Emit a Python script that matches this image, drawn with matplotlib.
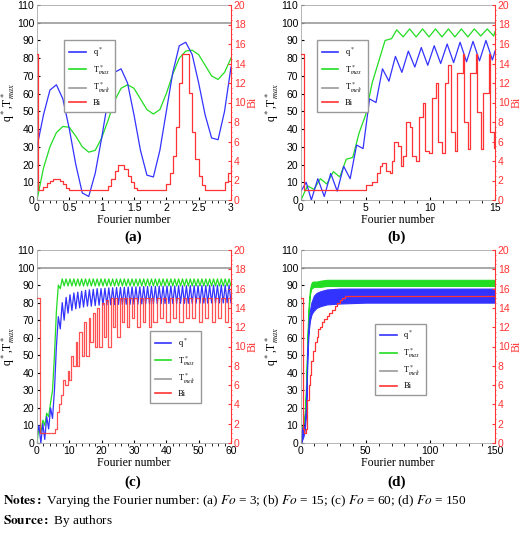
import numpy as np
import matplotlib
matplotlib.use("Agg")
import matplotlib.pyplot as plt

plt.rcParams["font.family"] = ["Liberation Serif", "DejaVu Serif"]
plt.rcParams["mathtext.fontset"] = "stix"

BLUE, GREEN, GRAY, RED = "#3333ff", "#22dd22", "#999999", "#ff3333"

# ---- (a) Fo = 3
fo_a = np.round(np.arange(0, 3.01, 0.1), 2)
q_a = [30, 48, 62, 65, 57, 40, 20, 4, 2, 15, 35, 57, 72, 74, 66, 48, 28, 14, 13, 28,
       50, 72, 87, 89, 82, 66, 48, 35, 34, 50, 75]
t_a = [0, 18, 30, 38, 41.5, 41, 36, 30, 27, 28, 35, 45, 56, 63, 65, 63, 57, 51, 48.5, 51,
       60, 71, 80, 84, 84.5, 82, 76, 70, 68, 72, 80]
bi_a_x = [0, 0.02, 0.1, 0.15, 0.2, 0.25, 0.35, 0.4, 0.45, 0.5, 1.1, 1.15, 1.2, 1.25, 1.35,
          1.4, 1.45, 1.5, 1.55, 2.0, 2.05, 2.1, 2.15, 2.2, 2.25, 2.35, 2.4, 2.45, 2.5, 2.55,
          2.6, 2.9, 2.95, 3.0]
bi_a = [15, 1, 1.3, 1.7, 2.0, 2.2, 2.0, 1.6, 1.2, 1, 1.4, 2.2, 3.0, 3.6, 3.2,
        2.5, 1.8, 1.2, 1, 1.6, 2.8, 4.5, 7.5, 12, 15, 11, 7, 4.2, 2.5, 1.5,
        1, 1.8, 2.8, 3.6]

# ---- (b) Fo = 15
fo_b_q = [0, 0.4, 0.8, 1.3, 1.8, 2.3, 2.8, 3.3, 3.8, 4.3, 4.8, 5.3, 5.8, 6.3, 6.8, 7.3, 7.8,
          8.3, 8.8, 9.3, 9.8, 10.3, 10.8, 11.3, 11.8, 12.3, 12.8, 13.3, 13.8, 14.3, 14.8, 15]
q_b = [5, 10, 0, 12, 2, 15, 5, 19, 12, 31, 29, 57, 55, 74, 67, 81, 72, 84, 75, 86, 76,
       87, 77, 88, 77.5, 89, 78, 89.5, 78.5, 90, 79, 84]
fo_b_t = [0, 0.5, 1.0, 1.5, 2.0, 2.5, 3.0, 3.5, 4.0, 4.5, 5.0, 5.5, 6.0, 6.5, 7.0, 7.4, 7.9,
          8.4, 8.9, 9.4, 9.9, 10.4, 10.9, 11.4, 11.9, 12.4, 12.9, 13.4, 13.9, 14.4, 14.9, 15]
t_b = [0, 8, 6, 12, 9, 16, 13, 23, 24, 38, 48, 66, 78, 90, 91, 96, 92, 96.5, 92, 96.5, 92,
       96.5, 92, 96.5, 92, 96.5, 92, 96.5, 92.5, 96.5, 92.5, 95]
bi_b_x = [0, 0.2, 5.0, 5.5, 5.9, 6.1, 6.3, 6.6, 6.9, 7.0, 7.2, 7.5, 7.7, 7.9, 8.1, 8.4, 8.6,
          8.9, 9.1, 9.4, 9.6, 9.9, 10.1, 10.4, 10.6, 10.9, 11.1, 11.4, 11.6, 11.9, 12.1, 12.5,
          12.6, 12.9, 13.1, 13.5, 13.6, 13.9, 14.1, 14.5, 14.6, 14.9, 15]
bi_b = [15, 1, 1.5, 1.8, 2.8, 3.5, 3.8, 3.0, 2.8, 4.0, 6.0, 5.5, 3.5, 4.5, 8.0, 7.5, 4.5,
        4.0, 8.5, 10, 5.0, 4.8, 10.5, 12, 6.0, 4.8, 12, 13.8, 7.0, 5.0, 13, 15,
        8.0, 5.2, 13, 15, 9.0, 5.2, 11, 15, 7.0, 5.3, 7.5]

# ---- (c) Fo = 60
fo_c_q = [0, 0.6, 1.2, 1.8, 2.4, 3.0, 3.6, 4.2, 4.8, 5.4, 6.0, 6.6, 7.2]
q_c_start = [5, 10, 0, 11, 2, 15, 8, 20, 14, 30, 55, 72, 65]
q_c_peak = [80, 83, 84.5, 85.5, 86, 86.5, 87, 87.3, 87.6, 88, 88, 88.2, 88.4, 88.5, 88.6,
            88.7, 88.8, 88.9, 89, 89, 89, 89.2, 89.2, 89.3, 89.3, 89.4, 89.4, 89.5, 89.5,
            89.5, 89.6, 89.6, 89.6, 89.7, 89.7, 89.7, 89.8, 89.8, 89.8, 89.9, 89.9, 90, 90, 90]
q_c_low = [70, 74, 75.5, 76.5, 77, 77.5, 78, 78, 78.3, 78.5, 78.6, 78.7, 78.8, 78.9, 79,
           79, 79.1, 79.1, 79.2, 79.2, 79.3, 79.3, 79.3, 79.4, 79.4, 79.4, 79.5, 79.5, 79.5,
           79.5, 79.6, 79.6, 79.6, 79.6, 79.7, 79.7, 79.7, 79.7, 79.8, 79.8, 79.8, 79.8, 79.9, 79.9]
fo_c_t = [0, 0.6, 1.2, 1.8, 2.4, 3.0, 3.6, 4.2, 4.8, 5.4, 6.0, 6.6, 7.2]
t_c_start = [0, 9, 6, 13, 10, 17, 15, 23, 30, 50, 75, 90, 88]
t_c_peak = 93.5
t_c_low = 89.5
bi_c_x = [0, 0.8, 5.5, 6.2, 6.8, 7.5, 8.0, 8.7, 9.5, 10.0, 10.5, 11.2, 12.0, 12.5, 13.0,
          13.8, 14.6, 15.2, 16.0, 16.5, 17.2, 17.8, 18.5, 19.2, 20.0, 20.6, 21.4, 22.0, 22.8,
          23.4, 24.0, 24.8, 25.6, 26.4, 27.0, 27.8, 28.6, 29.4, 30.0, 31.0, 32.0, 32.8, 33.5,
          34.5, 35.2, 36.0, 37.0, 38.0, 39.0, 40.0, 41.0, 42.0, 43.0, 44.0, 45.0, 46.0, 47.0,
          48.0, 49.0, 50.0, 51.0, 52.0, 53.0, 54.0, 55.0, 56.0, 57.0, 58.0, 59.0, 60.0]
bi_c = [15, 1, 1.5, 3.2, 4.0, 5.0, 6.5, 6.0, 7.5, 6.5, 9.0, 8.0, 10.5, 8.0, 11.5,
        9.0, 12.5, 9.0, 13.0, 10.5, 13.5, 10.0, 14.0, 10.0, 14.5, 11.0, 14.8, 10.0, 15.0,
        12.0, 15.0, 11.0, 15.0, 12.5, 15.0, 12.0, 15.0, 13.0, 15.0, 12.0, 15.0, 12.5, 15.0,
        12.0, 15.0, 12.5, 15.0, 13.0, 15.0, 12.5, 15.0, 13.0, 15.0, 12.5, 15.0, 13.0, 15.0,
        13.0, 15.0, 12.5, 15.0, 13.0, 15.0, 12.5, 15.0, 13.0, 15.0, 12.5, 15.0, 12.5]

# ---- (d) Fo = 150
fo_d = [0, 1, 2, 3, 4, 5, 6, 7, 8, 9, 10, 12, 15, 20, 30, 50, 100, 150]
q_d_hi = [0, 9, 9, 12, 22, 55, 70, 76, 80, 82, 84, 85.5, 86.5, 87.5, 88, 88, 88, 88]
q_d_lo = [0, 2, 4, 8, 18, 50, 64, 70, 73, 74.5, 75.5, 77, 78, 79, 79.5, 80, 80, 80]
t_d_hi = [0, 10, 12, 18, 35, 62, 80, 88, 91, 92, 92, 92, 92.5, 93, 93, 93, 93, 93]
t_d_lo = [0, 3, 8, 14, 30, 58, 76, 85, 88, 88.5, 89, 89, 89, 89.5, 89.5, 89.5, 89.5, 89.5]
bi_d_x = [0, 1.5, 2.0, 4.0, 5.0, 6.0, 7.0, 8.0, 9.5, 11, 12, 13.5, 15, 16.5, 18, 20, 22, 24,
          26, 28, 30, 32, 34, 150]
bi_d = [15, 1.5, 1, 1.5, 4.5, 6, 7, 8.5, 9.5, 10.5, 11, 11.8, 12, 12.5, 12.8, 13.2, 13.5,
        13.8, 14.2, 14.5, 14.8, 15, 15.2, 15.2]

T_MELT = 100


def style(ax, xmax, xticks):
    ax.set_xlim(0, xmax)
    ax.set_ylim(0, 110)
    ax.set_xticks(xticks)
    ax.set_yticks(range(0, 111, 10))
    ax.tick_params(labelsize=7.5, length=2, pad=2, direction="in",
                   labelfontfamily="Liberation Sans")
    ax.set_xlabel("Fourier number", fontsize=8.5, labelpad=1)
    ax.set_ylabel(r"q$^*$,T$^*_{max}$", fontsize=8.5, labelpad=0)
    for s in ax.spines.values():
        s.set_color("#aaaaaa")
        s.set_linewidth(0.6)
    ax.axhline(T_MELT, color=GRAY, lw=1.2)
    ax2 = ax.twinx()
    ax2.set_ylim(0, 20)
    ax2.set_yticks(range(0, 21, 2))
    ax2.minorticks_on()
    ax2.tick_params(colors=RED, labelsize=7.5, length=2, pad=2, direction="in",
                    labelfontfamily="Liberation Sans")
    ax2.tick_params(which="minor", colors=RED, length=1)
    ax2.spines["right"].set_color(RED)
    for k in ("left", "top", "bottom"):
        ax2.spines[k].set_visible(False)
    ax2.set_ylabel("Bi", color=RED, fontsize=8.5, labelpad=1)
    return ax2


def legend(ax, loc, anchor):
    h = [plt.Line2D([], [], color=c, lw=1.2) for c in (BLUE, GREEN, GRAY, RED)]
    ax.legend(h, [r"q$^*$", r"T$^*_{max}$", r"T$^*_{melt}$", "Bi"], loc=loc,
              bbox_to_anchor=anchor, fontsize=6, handlelength=2, frameon=True,
              fancybox=False, edgecolor="#999999", framealpha=1, borderpad=0.6,
              labelspacing=0.5)


def zigzag(start_x, start_y, peaks, lows, x0, step):
    xs, ys = list(start_x), list(start_y)
    for i, (p, lo) in enumerate(zip(peaks, lows)):
        xs += [x0 + i * step, x0 + i * step + step / 2]
        ys += [p, lo]
    return xs, ys


fig = plt.figure(figsize=(5.2, 5.38), dpi=100)
W, H = 520, 538
def axes_at(x0, y0, x1, y1):
    return fig.add_axes([x0 / W, 1 - y1 / H, (x1 - x0) / W, (y1 - y0) / H])

# (a)
ax = axes_at(37, 5, 231, 200)
ax2 = style(ax, 3, [0, 0.5, 1, 1.5, 2, 2.5, 3])
ax.set_xticklabels(["0", "0.5", "1", "1.5", "2", "2.5", "3"])
ax.plot(fo_a, t_a, color=GREEN, lw=0.9)
ax.plot(fo_a, q_a, color=BLUE, lw=0.9)
ax2.step(bi_a_x, bi_a, where="post", color=RED, lw=0.9)
legend(ax, "upper left", (0.12, 0.84))

# (b)
ax = axes_at(301, 5, 495, 200)
ax2 = style(ax, 15, [0, 5, 10, 15])
ax.plot(fo_b_t, t_b, color=GREEN, lw=0.9)
ax.plot(fo_b_q, q_b, color=BLUE, lw=0.9)
ax2.step(bi_b_x, bi_b, where="post", color=RED, lw=0.9)
legend(ax, "upper left", (0.06, 0.84))

# (c)
ax = axes_at(37, 250, 231, 443)
ax2 = style(ax, 60, [0, 10, 20, 30, 40, 50, 60])
xs, ys = zigzag(fo_c_t, t_c_start, [t_c_peak] * 44, [t_c_low] * 44, 7.8, 1.2)
ax.plot(xs, ys, color=GREEN, lw=0.9)
xs, ys = zigzag(fo_c_q, q_c_start, q_c_peak, q_c_low, 7.8, 1.2)
ax.plot(xs, ys, color=BLUE, lw=0.9)
ax2.step(bi_c_x, bi_c, where="post", color=RED, lw=0.9, alpha=0.85)
legend(ax, "upper left", (0.56, 0.6))

# (d)
ax = axes_at(301, 250, 495, 443)
ax2 = style(ax, 150, [0, 50, 100, 150])
ax.fill_between(fo_d, t_d_lo, t_d_hi, color=GREEN, lw=0.8)
ax.fill_between(fo_d, q_d_lo, q_d_hi, color=BLUE, lw=0.8)
ax2.plot(bi_d_x, bi_d, color=RED, lw=0.9, drawstyle="steps-post")
legend(ax, "upper left", (0.36, 0.64))

for x, y, lab in [(133, 237, "(a)"), (397, 237, "(b)"), (133, 482, "(c)"), (397, 482, "(d)")]:
    fig.text(x / W, 1 - y / H, lab, fontsize=11, fontweight="bold", ha="center", va="center")

fig.text(3 / W, 1 - 501 / H, r"$\mathbf{Notes:}$ Varying the Fourier number: (a) $\it{Fo}$ = 3; "
         r"(b) $\it{Fo}$ = 15; (c) $\it{Fo}$ = 60; (d) $\it{Fo}$ = 150",
         fontsize=9.5, va="center")
fig.text(3 / W, 1 - 521 / H, r"$\mathbf{Source:}$ By authors", fontsize=9.5, va="center")

fig.savefig("out.png", dpi=100)
